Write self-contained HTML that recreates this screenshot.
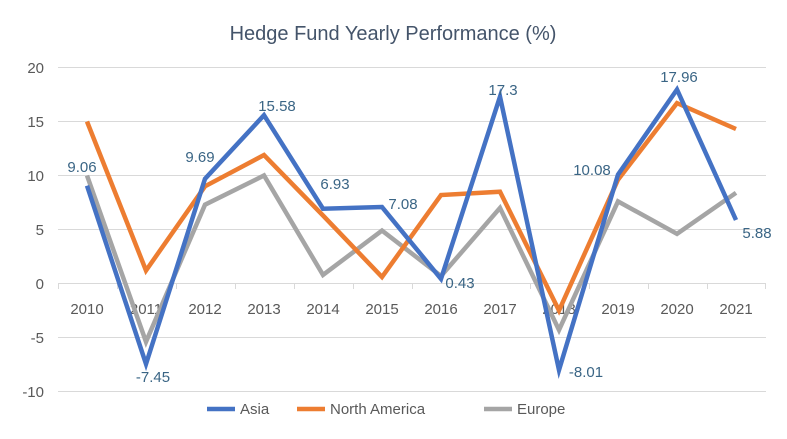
<!DOCTYPE html>
<html><head><style>body{margin:0;background:#fff}svg{display:block}text{font-family:"Liberation Sans",sans-serif}</style></head><body>
<svg width="787" height="439" xmlns="http://www.w3.org/2000/svg">
<text x="393" y="40" text-anchor="middle" font-size="20" fill="#44546a">Hedge Fund Yearly Performance (%)</text>
<g stroke="#d9d9d9" stroke-width="1">
<line x1="58" x2="766" y1="67.5" y2="67.5"/><line x1="58" x2="766" y1="121.5" y2="121.5"/><line x1="58" x2="766" y1="175.5" y2="175.5"/><line x1="58" x2="766" y1="229.5" y2="229.5"/><line x1="58" x2="766" y1="337.5" y2="337.5"/><line x1="58" x2="766" y1="391.5" y2="391.5"/>
<line x1="58" x2="766" y1="283.5" y2="283.5"/>
<path d="M58.5 283v6M117.5 283v6M176.5 283v6M235.5 283v6M294.5 283v6M353.5 283v6M412.5 283v6M471.5 283v6M530.5 283v6M589.5 283v6M648.5 283v6M707.5 283v6M765.5 283v6"/>
</g>
<g font-size="15" fill="#595959" text-anchor="end">
<text x="44" y="73">20</text><text x="44" y="127">15</text><text x="44" y="181">10</text><text x="44" y="235">5</text><text x="44" y="289">0</text><text x="44" y="343">-5</text><text x="44" y="397">-10</text>
</g>
<g font-size="15" fill="#595959" text-anchor="middle">
<text x="87" y="314">2010</text><text x="146" y="314">2011</text><text x="205" y="314">2012</text><text x="264" y="314">2013</text><text x="323" y="314">2014</text><text x="382" y="314">2015</text><text x="441" y="314">2016</text><text x="500" y="314">2017</text><text x="559" y="314">2018</text><text x="618" y="314">2019</text><text x="677" y="314">2020</text><text x="736" y="314">2021</text>
</g>
<g fill="none" stroke-width="4.5" stroke-linejoin="miter">
<polyline stroke="#a5a5a5" points="87,175.5 146,341.8 205,204.7 264,175.5 323,274.9 382,230.6 441,276 500,207.9 559,330 618,201.4 677,233.8 736,192.8"/>
<polyline stroke="#ed7d31" points="87,121.5 146,270.5 205,186.3 264,155 323,215.5 382,277 441,195 500,191.7 559,310.5 618,179.7 677,103.1 736,129"/>
<polyline stroke="#4472c4" points="87,185.7 146,364 205,178.8 264,115.2 323,208.7 382,207 441,278.9 500,96.7 559,370 618,174.6 677,89.5 736,220"/>
</g>
<g font-size="15" fill="#3a6585" text-anchor="middle">
<text x="82" y="172">9.06</text><text x="153" y="382">-7.45</text><text x="200" y="162">9.69</text><text x="277" y="111">15.58</text><text x="335" y="189">6.93</text><text x="403" y="209">7.08</text><text x="460" y="288">0.43</text><text x="503" y="95">17.3</text><text x="586" y="377">-8.01</text><text x="592" y="175">10.08</text><text x="679" y="82">17.96</text><text x="757" y="238">5.88</text>
</g>
<g font-size="15" fill="#595959">
<line x1="207" x2="235" y1="409" y2="409" stroke="#4472c4" stroke-width="4.5"/><text x="240" y="414">Asia</text>
<line x1="297" x2="325" y1="409" y2="409" stroke="#ed7d31" stroke-width="4.5"/><text x="330" y="414">North America</text>
<line x1="484" x2="512" y1="409" y2="409" stroke="#a5a5a5" stroke-width="4.5"/><text x="517" y="414">Europe</text>
</g>
</svg>
</body></html>
